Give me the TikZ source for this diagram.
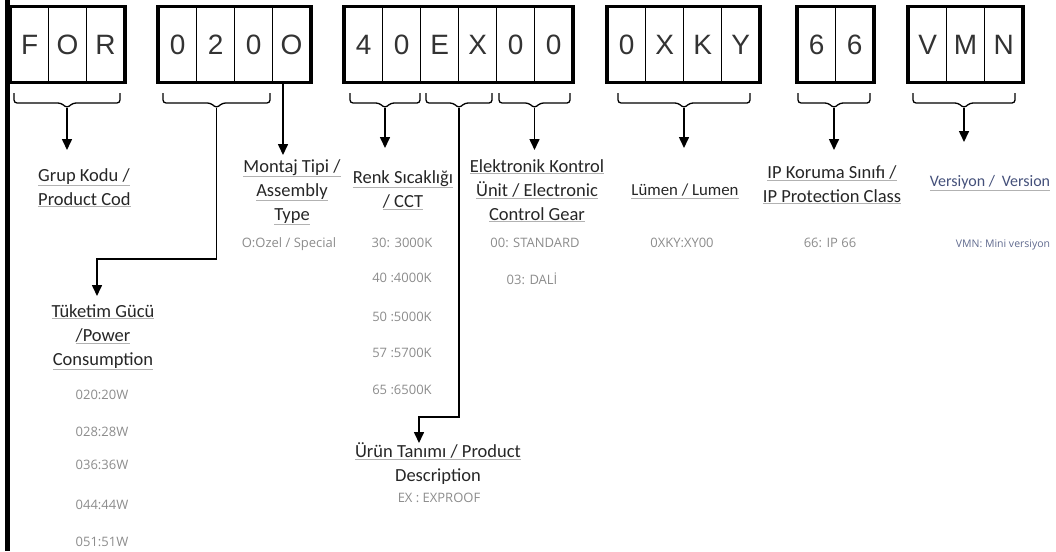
\documentclass[tikz,border=0pt]{standalone}
\usepackage{fontspec}
\setmainfont{Carlito}
\newfontfamily\cellfont{Liberation Sans}
\newfontfamily\valfont{Open Sans}
\usepackage{xcolor}
\usetikzlibrary{arrows.meta, positioning, calc}

\definecolor{labelink}{HTML}{262626}
\definecolor{valueink}{HTML}{8C8C8C}
\definecolor{versink}{HTML}{44507A}

% underlined label line, rule in grey, text in the current colour
\newcommand{\ulbl}[1]{\colorlet{lblcur}{.}\textcolor{gray!60}{\underline{\textcolor{lblcur}{#1}}}}

\tikzset{
  cell/.style={draw, line width=1.2pt, minimum width=38pt, minimum height=75pt, inner sep=0pt,
    anchor=west, font=\cellfont\fontsize{28}{28}\selectfont, text=black!80},
  outerbox/.style={line width=3.6pt},
  brace/.style={line width=1.3pt, rounded corners=3pt},
  conn/.style={line width=1.6pt, -{Triangle[length=11pt, width=10pt]}},
  lbl/.style={inner sep=0pt, align=center, anchor=north, font=\fontsize{18.5}{24}\selectfont, text=labelink},
  val/.style={inner sep=0pt, anchor=base, font=\valfont\fontsize{13}{15}\selectfont, text=valueink},
}

\begin{document}
\begin{tikzpicture}[x=1pt, y=-1pt, >=Stealth]
  \useasboundingbox (0,0) rectangle (1056,551);
  \draw[line width=4.5pt] (7.5,0) -- (7.5,551);

  % code boxes
  \foreach \grp/\xs/\n/\chars in {f/10/3/{F,O,R}, t/158/4/{0,2,0,O}, r/344/6/{4,0,E,X,0,0},
      l/607/4/{0,X,K,Y}, p/797/2/{6,6}, v/908/3/{V,M,N}}{
    \foreach \c [count=\i] in \chars
      \node[cell] (\grp-\i) at ({\xs+(\i-1)*38},44.5) {\c};
    \draw[outerbox] (\grp-1.north west) rectangle (\grp-\n.south east);
  }

  % braces under the boxes
  \foreach \nm/\xa/\xb in {gk/14/120, tg/163/270, rs/350/420, ut/426/492, ek/499/570,
      lm/618/750, ip/798/870, vr/913/1015}{
    \draw[brace] (\xa,93) -- (\xa,103) -- ({(\xa+\xb)/2-6},103) -- ({(\xa+\xb)/2},108)
      -- ({(\xa+\xb)/2+6},103) -- (\xb,103) -- (\xb,93);
    \coordinate (\nm) at ({(\xa+\xb)/2},108);
  }

  % labels
  \node[lbl, anchor=north west, align=left] (grup) at (38,168) {\ulbl{Grup Kodu /}\\\ulbl{Product Cod}};
  \node[lbl] (montaj) at (292,159) {\ulbl{Montaj Tipi /}\\\ulbl{Assembly}\\\ulbl{Type}};
  \node[lbl] (renk) at (403,170) {\ulbl{Renk Sıcaklığı}\\\ulbl{/ CCT}};
  \node[lbl] (elek) at (537,159) {\ulbl{Elektronik Kontrol}\\\ulbl{Ünit / Electronic}\\\ulbl{Control Gear}};
  \node[lbl, font=\fontsize{16.8}{22}\selectfont] (lumen) at (685,184) {\ulbl{Lümen / Lumen}};
  \node[lbl] (ipk) at (832,165) {\ulbl{IP Koruma Sınıfı /}\\\ulbl{IP Protection Class}};
  \node[lbl, font=\fontsize{16}{22}\selectfont, text=versink] (vers) at (990,175)
    {\ulbl{Versiyon / \hspace{0.2em}Version}};
  \node[lbl] (tuketim) at (103,304) {\ulbl{Tüketim Gücü}\\\ulbl{/Power}\\\ulbl{Consumption}};
  \node[lbl] (urun) at (438,442) {\ulbl{Ürün Tanımı / Product}\\Description};

  % values
  \node[val] (ozel) at (289,247) {O:Ozel / Special};
  \foreach \txt/\yy [count=\k] in {{30: 3000K}/243, {40 :4000K}/278, {50 :5000K}/317,
      {57 :5700K}/353, {65 :6500K}/390}
    \node[val] (cct-\k) at (402,\yy+4) {\txt};
  \node[val] (std) at (535,247) {00: STANDARD};
  \node[val] (dali) at (532,284) {03: DALİ};
  \node[val] (lmv) at (682,247) {0XKY:XY00};
  \node[val] (ipv) at (830,247) {66: IP 66};
  \node[val, font=\valfont\fontsize{10.5}{12}\selectfont, text=versink!85] (vmn) at (1003,247) {VMN: Mini versiyon};
  \foreach \txt/\yy [count=\k] in {020:20W/395, 028:28W/432, 036:36W/465, 044:44W/505, 051:51W/542}
    \node[val] (pw-\k) at (102,\yy+4) {\txt};
  \node[val] (exv) at (439,502) {EX : EXPROOF};

  % arrow ends
  \coordinate (gk-tip) at (67,150);
  \coordinate (mt-tip) at (283,155);
  \coordinate (rs-tip) at (385,148);
  \coordinate (ek-tip) at (534.5,150);
  \coordinate (lm-tip) at (684,148);
  \coordinate (ip-tip) at (834,150);
  \coordinate (vr-tip) at (964,142);
  \coordinate (tg-bend) at (216.5,259);
  \coordinate (tg-tip) at (97,296);
  \coordinate (ut-bend) at (459,417);
  \coordinate (ut-tip) at (419,443);

  % connectors
  \foreach \nm in {gk, rs, ek, lm, ip, vr}
    \draw[conn] (\nm) -- (\nm-tip);
  \draw[conn] (t-4.south -| mt-tip) -- (mt-tip);
  \draw[conn] (tg) -- (tg-bend) -| (tg-tip);
  \draw[conn] (ut) -- (ut-bend) -| (ut-tip);
\end{tikzpicture}
\end{document}
